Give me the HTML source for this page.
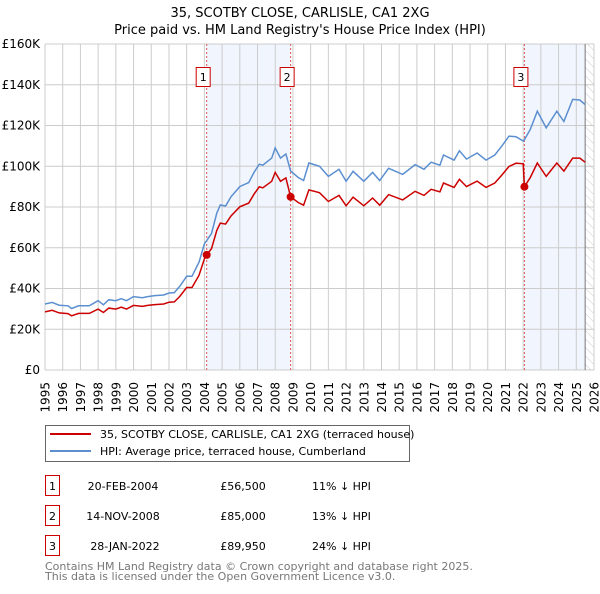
<!DOCTYPE html>
<html><head><meta charset="utf-8"><style>
body{margin:0;background:#fff;font-family:"DejaVu Sans","Liberation Sans",sans-serif;}
svg text{font-family:"DejaVu Sans","Liberation Sans",sans-serif;}
</style></head><body>
<svg id="chart" width="600" height="590" xmlns="http://www.w3.org/2000/svg">
<defs><pattern id="hatch" width="6" height="6" patternUnits="userSpaceOnUse" patternTransform="rotate(-45)"><line x1="0" y1="0" x2="0" y2="6" stroke="#ccc" stroke-width="1"/></pattern></defs>
<text x="300" y="17" font-size="13" text-anchor="middle">35, SCOTBY CLOSE, CARLISLE, CA1 2XG</text>
<text x="300" y="34" font-size="13" text-anchor="middle">Price paid vs. HM Land Registry's House Price Index (HPI)</text>
<g id="plot"></g>
<rect x="45.5" y="425.5" width="364" height="36" fill="#fff" stroke="#666"/>
<line x1="50" y1="434" x2="91" y2="434" stroke="#cc0000" stroke-width="2"/>
<text x="100" y="438" font-size="11">35, SCOTBY CLOSE, CARLISLE, CA1 2XG (terraced house)</text>
<line x1="50" y1="451" x2="91" y2="451" stroke="#5b8fd0" stroke-width="2"/>
<text x="100" y="455" font-size="11">HPI: Average price, terraced house, Cumberland</text>
<g font-size="11">
<rect x="45.5" y="475.5" width="14" height="20" fill="none" stroke="#cc0000"/><text x="52.5" y="490" text-anchor="middle">1</text>
<text x="123" y="490" text-anchor="middle">20-FEB-2004</text><text x="243" y="490" text-anchor="middle">£56,500</text><text x="312" y="490">11% ↓ HPI</text>
<rect x="45.5" y="505.5" width="14" height="20" fill="none" stroke="#cc0000"/><text x="52.5" y="520" text-anchor="middle">2</text>
<text x="123" y="520" text-anchor="middle">14-NOV-2008</text><text x="243" y="520" text-anchor="middle">£85,000</text><text x="312" y="520">13% ↓ HPI</text>
<rect x="45.5" y="535.5" width="14" height="20" fill="none" stroke="#cc0000"/><text x="52.5" y="550" text-anchor="middle">3</text>
<text x="125" y="550" text-anchor="middle">28-JAN-2022</text><text x="243" y="550" text-anchor="middle">£89,950</text><text x="312" y="550">24% ↓ HPI</text>
</g>
<text x="45" y="570" font-size="11" fill="#777">Contains HM Land Registry data © Crown copyright and database right 2025.</text>
<text x="45" y="580" font-size="11" fill="#777">This data is licensed under the Open Government Licence v3.0.</text>
</svg>
<script>
const years=[1995.0,1995.4,1995.8,1996.3,1996.5,1996.9,1997.5,1998.0,1998.3,1998.6,1999.0,1999.3,1999.6,2000.0,2000.5,2000.8,2001.2,2001.7,2002.0,2002.3,2002.6,2003.0,2003.3,2003.7,2004.0,2004.13,2004.4,2004.7,2004.9,2005.2,2005.5,2006.0,2006.5,2006.8,2007.1,2007.3,2007.8,2008.0,2008.3,2008.6,2008.87,2009.3,2009.6,2009.9,2010.5,2011.0,2011.6,2012.0,2012.4,2013.0,2013.5,2013.9,2014.4,2015.2,2015.9,2016.4,2016.8,2017.3,2017.5,2018.1,2018.4,2018.8,2019.4,2019.9,2020.4,2020.8,2021.2,2021.6,2022.0,2022.07,2022.4,2022.8,2023.3,2023.9,2024.3,2024.8,2025.2,2025.5];
const hpiValues=[32.4,33.2,31.8,31.5,30.2,31.5,31.5,34.0,32.0,34.5,34.0,35.0,34.0,36.0,35.5,36.0,36.5,36.8,37.8,38.0,41.0,46.0,46.0,53.0,62.0,63.5,67.0,77.0,81.0,80.5,85.0,90.0,92.0,97.0,101.0,100.5,104.0,109.0,104.0,106.0,97.7,94.5,93.0,101.6,100.0,95.0,98.5,92.6,97.5,92.6,97.0,93.0,99.0,96.0,100.8,98.5,102.0,100.5,105.5,103.0,107.6,103.5,106.5,103.0,105.5,110.0,114.8,114.5,112.4,113.0,118.0,127.0,118.8,127.0,122.0,132.8,132.5,130.3];
const priceValues=[28.5,29.3,28.0,27.7,26.6,27.8,27.8,29.9,28.2,30.4,29.9,30.8,29.9,31.7,31.2,31.7,32.1,32.4,33.3,33.4,36.0,40.5,40.5,46.6,54.6,56.5,59.6,68.5,72.1,71.6,75.6,80.1,81.9,86.3,89.9,89.4,92.6,97.0,92.6,94.3,85.0,82.2,80.9,88.4,87.0,82.7,85.7,80.6,84.8,80.6,84.4,80.9,86.1,83.5,87.7,85.7,88.7,87.4,91.8,89.6,93.6,90.0,92.7,89.6,91.8,95.7,99.9,101.5,101.2,89.95,94.4,101.6,95.0,101.6,97.6,104.0,104.0,102.0];
const saleYears=[2004.13,2008.87,2022.07];
const salePrices=[56.5,85.0,89.95];
const saleLabels=["1","2","3"];
const xTicks=[1995,1996,1997,1998,1999,2000,2001,2002,2003,2004,2005,2006,2007,2008,2009,2010,2011,2012,2013,2014,2015,2016,2017,2018,2019,2020,2021,2022,2023,2024,2025,2026];
const yTicks=[0,20,40,60,80,100,120,140,160];
const yTickLabels=["£0","£20K","£40K","£60K","£80K","£100K","£120K","£140K","£160K"];
const dataEnd=2025.5;

const L=45,R=594,T=44,B=370;
const X=y=>L+(y-1995)/(2026-1995)*(R-L);
const Y=v=>B-v/160*(B-T);
const NS="http://www.w3.org/2000/svg";
const g=document.getElementById('plot');
function mk(tag,attrs,parent){const e=document.createElementNS(NS,tag);for(const k in attrs)e.setAttribute(k,attrs[k]);(parent||g).appendChild(e);return e;}

let s1=mk('rect',{x:X(saleYears[0]),y:T,width:X(saleYears[1])-X(saleYears[0]),height:B-T,fill:'#eef3fc',opacity:0.8});


let s3=mk('rect',{x:X(saleYears[2]),y:T,width:X(dataEnd)-X(saleYears[2]),height:B-T,fill:'#eef3fc',opacity:0.8});


let hz=mk('rect',{x:X(dataEnd),y:T,width:R-X(dataEnd),height:B-T,fill:'url(#hatch)'});



xTicks.forEach(t=>{
  let l=mk('line',{x1:X(t),x2:X(t),y1:T,y2:B,stroke:'#ccc','stroke-width':1});
  
  
  let tx=mk('text',{x:0,y:0,'font-size':12,'text-anchor':'end',transform:'translate('+(X(t)+4.5)+',382) rotate(-90)'});
  tx.textContent=t;
  
  
});
yTicks.forEach((t,i)=>{
  let l=mk('line',{x1:L,x2:R,y1:Y(t),y2:Y(t),stroke:'#ccc','stroke-width':1});
  
  
  let tx=mk('text',{x:40,y:Y(t)+4,'font-size':12,'text-anchor':'end'});
  tx.textContent=yTickLabels[i];
  
  
});
let de=mk('line',{x1:X(dataEnd),x2:X(dataEnd),y1:T,y2:B,stroke:'#777','stroke-width':1});



saleYears.forEach((s,i)=>{
  let l=mk('line',{x1:X(s),x2:X(s),y1:T,y2:B,stroke:'#e05555','stroke-width':1,'stroke-dasharray':'2,2'});
  
  
});

function path(vals){return years.map((y,i)=>(i?'L':'M')+X(y).toFixed(1)+','+Y(vals[i]).toFixed(1)).join(' ');}
let hp=mk('path',{d:path(hpiValues),fill:'none',stroke:'#5b8fd0','stroke-width':1.5});


let pp=mk('path',{d:path(priceValues),fill:'none',stroke:'#cc0000','stroke-width':1.5});



saleYears.forEach((s,i)=>{
  let c=mk('circle',{cx:X(s),cy:Y(salePrices[i]),r:4,fill:'#cc0000'});
  
  
  let b=mk('rect',{x:X(s)-10.5,y:67.5,width:14,height:19,fill:'#fff',stroke:'#cc0000'});
  
  
  let t=mk('text',{x:X(s)-3.5,y:81,'font-size':11,'text-anchor':'middle'});
  t.textContent=saleLabels[i];
  
  
});
</script>
</body></html>
